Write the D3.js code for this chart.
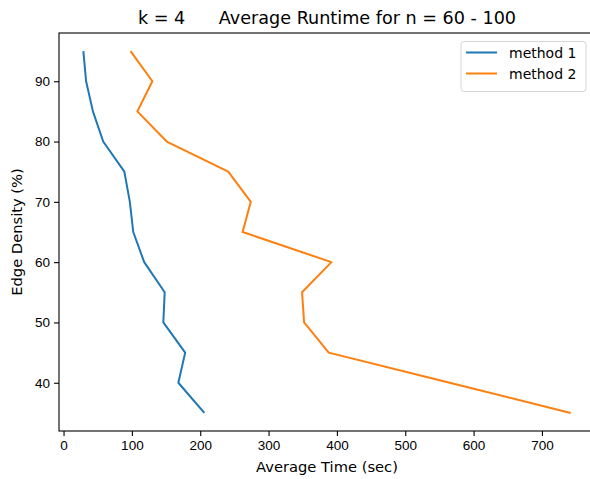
<!DOCTYPE html>
<html>
<head>
<meta charset="utf-8">
<script src="https://cdn.jsdelivr.net/npm/d3@7"></script>
<style>
  body { margin: 0; background: #fff; }
  svg { display: block; font-family: "DejaVu Sans", sans-serif; }
  .tick text { font-size: 13.5px; fill: #000; }
  .axis-label { font-size: 14.7px; fill: #000; }
  .title { font-size: 17.6px; fill: #000; white-space: pre; }
  .legend-caption { font-size: 14px; fill: #000; }
</style>
</head>
<body>
<svg id="chart"></svg>
<script>
// data
const density = [95, 90, 85, 80, 75, 70, 65, 60, 55, 50, 45, 40, 35];
const method1 = [29, 33, 43, 58, 89, 97, 102, 118, 148, 146, 178, 168, 206];
const method2 = [98, 130, 108, 151, 241, 274, 262, 392, 349, 352, 388, 565, 742];
const seriesNames = ["method 1", "method 2"];
const seriesColors = ["#1f77b4", "#ff7f0e"];
const xTicks = [0, 100, 200, 300, 400, 500, 600, 700];
const yTicks = [40, 50, 60, 70, 80, 90];

const width = 590, height = 479;
const margin = {top: 33, left: 59, bottom: 48}; // right spine falls just past the edge
const plotRight = 595;

const svg = d3.select("#chart").attr("width", width).attr("height", height);

// matplotlib-ish 5% padding on both axes
const allX = method1.concat(method2);
const xMin = d3.min(allX), xMax = d3.max(allX);
const xPad = (xMax - xMin) * 0.05;
const x = d3.scaleLinear()
  .domain([xMin - xPad, xMax + xPad])
  .range([margin.left, plotRight]);

const yMin = d3.min(density), yMax = d3.max(density);
const yPad = (yMax - yMin) * 0.05;
const y = d3.scaleLinear()
  .domain([yMin - yPad, yMax + yPad])
  .range([height - margin.bottom, margin.top]);

// lines
const line = d3.line().x(d => x(d[0])).y(d => y(d[1]));
[method1, method2].forEach((vals, i) => {
  svg.append("path")
    .datum(vals.map((v, j) => [v, density[j]]))
    .attr("fill", "none")
    .attr("stroke", seriesColors[i])
    .attr("stroke-width", 2)
    .attr("stroke-linejoin", "round")
    .attr("d", line);
});

// frame
svg.append("rect")
  .attr("x", margin.left)
  .attr("y", margin.top)
  .attr("width", plotRight - margin.left)
  .attr("height", height - margin.bottom - margin.top)
  .attr("fill", "none")
  .attr("stroke", "#000")
  .attr("stroke-width", 1.1);

// axes
const xAxis = svg.append("g")
  .attr("transform", `translate(0,${height - margin.bottom})`)
  .call(d3.axisBottom(x).tickValues(xTicks).tickSize(5).tickPadding(4));
const yAxis = svg.append("g")
  .attr("transform", `translate(${margin.left},0)`)
  .call(d3.axisLeft(y).tickValues(yTicks).tickSize(5).tickPadding(4));
[xAxis, yAxis].forEach(g => {
  g.select(".domain").remove();
  g.selectAll(".tick line").attr("stroke", "#000").attr("stroke-width", 1.1);
  g.selectAll(".tick text").attr("font-family", null).attr("font-size", null);
});

// labels
svg.append("text")
  .attr("class", "axis-label")
  .attr("x", 327)
  .attr("y", 472)
  .attr("text-anchor", "middle")
  .text("Average Time (sec)");

svg.append("text")
  .attr("class", "axis-label")
  .attr("transform", `translate(22,${(margin.top + height - margin.bottom) / 2}) rotate(-90)`)
  .attr("text-anchor", "middle")
  .text("Edge Density (%)");

svg.append("text")
  .attr("class", "title")
  .attr("x", 327)
  .attr("y", 24)
  .attr("text-anchor", "middle")
  .text("k = 4      Average Runtime for n = 60 - 100");

// legend
const legend = svg.append("g");
legend.append("rect")
  .attr("x", 461)
  .attr("y", 41.5)
  .attr("width", 125)
  .attr("height", 50)
  .attr("rx", 3)
  .attr("fill", "#fff")
  .attr("fill-opacity", 0.8)
  .attr("stroke", "#d6d6d6");
seriesNames.forEach((name, i) => {
  const ly = 52.5 + i * 21;
  legend.append("line")
    .attr("x1", 466).attr("x2", 497)
    .attr("y1", ly).attr("y2", ly)
    .attr("stroke", seriesColors[i])
    .attr("stroke-width", 2);
  legend.append("text")
    .attr("class", "legend-caption")
    .attr("x", 509)
    .attr("y", ly)
    .attr("dominant-baseline", "central")
    .text(name);
});
</script>
</body>
</html>
